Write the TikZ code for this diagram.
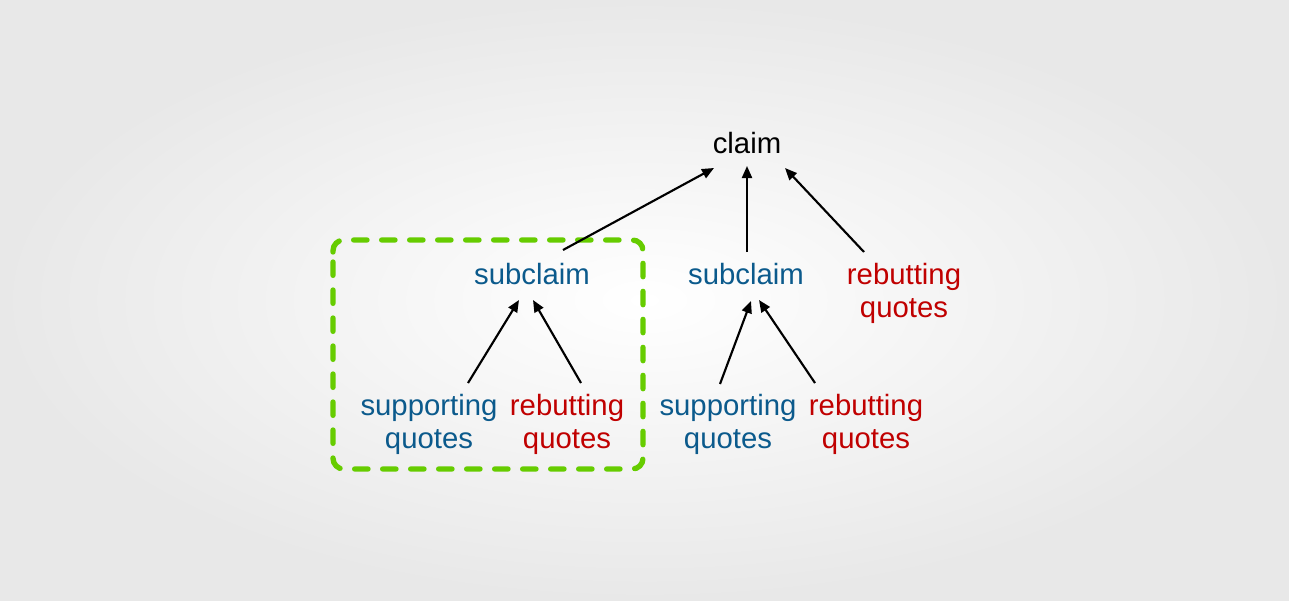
\documentclass[tikz,border=0pt]{standalone}
\usepackage{fontspec}
\setmainfont{Liberation Sans}
\usetikzlibrary{arrows.meta}
\definecolor{blu}{HTML}{0B5A8C}
\definecolor{rd}{HTML}{C00000}
\definecolor{grn}{HTML}{66CC00}
\begin{document}
\begin{tikzpicture}[x=0.75pt,y=-0.75pt,
  lbl/.style={font=\fontsize{22}{24.75}\selectfont, inner sep=0pt, align=center, anchor=base},
  arr/.style={line width=1.6pt, -{Triangle[length=9pt,width=7.5pt]}},
  grp/.style={grn, line width=4pt, line cap=round, dash pattern=on 10pt off 11pt, rounded corners=8pt}]
\shade[inner color=white, outer color=black!9] (0,0) rectangle (1289,600);
\useasboundingbox (0,0) rectangle (1289,600);
\node[lbl] (claim) at (747,153) {claim};
\node[lbl,blu] (s1) at (532,284) {subclaim};
\node[lbl,blu] (s2) at (746,284) {subclaim};
\node[lbl,rd] (r0) at (904,317) {rebutting\\quotes};
\node[lbl,blu] (q1) at (429,448) {supporting\\quotes};
\node[lbl,rd] (r1) at (567,448) {rebutting\\quotes};
\node[lbl,blu] (q2) at (728,448) {supporting\\quotes};
\node[lbl,rd] (r2) at (866,448) {rebutting\\quotes};
\draw[grp] (333,252) -- (333,240) -- (643,240) -- (643,457);
\draw[grp] (333,262) -- (333,469) -- (643,469) -- (643,463);
\draw[arr] ([shift={(31,-34)}]s1.base) -- ([shift={(-33,15)}]claim.base);
\draw[arr] ([shift={(1,-32)}]s2.base) -- ([shift={(0,13)}]claim.base);
\draw[arr] ([shift={(-40,-65)}]r0.base) -- ([shift={(38,15)}]claim.base);
\draw[arr] ([shift={(39,-65)}]q1.base) -- ([shift={(-13,16)}]s1.base);
\draw[arr] ([shift={(14,-65)}]r1.base) -- ([shift={(1,16)}]s1.base);
\draw[arr] ([shift={(-8,-64)}]q2.base) -- ([shift={(5,17)}]s2.base);
\draw[arr] ([shift={(-51,-65)}]r2.base) -- ([shift={(13,16)}]s2.base);
\end{tikzpicture}
\end{document}
